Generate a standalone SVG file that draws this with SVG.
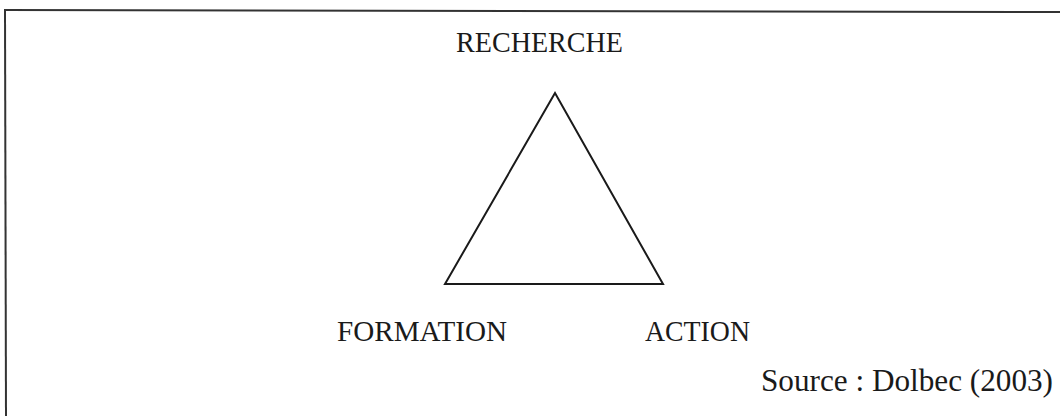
<svg xmlns="http://www.w3.org/2000/svg" width="1060" height="416" viewBox="0 0 1060 416">
<style>
.lbl{font-family:"Liberation Serif","Times New Roman",serif;font-size:28.5px;fill:#1a1a1a}
.src{font-size:31px}
.frame{stroke:#333;stroke-width:2;fill:none}
.tri{stroke:#1a1a1a;stroke-width:2;fill:none;stroke-linejoin:miter}
</style>
<rect width="1060" height="416" fill="#fff"/>
<g id="frame">
<line class="frame" x1="4" y1="10" x2="1060" y2="12"/>
<line class="frame" x1="5" y1="10" x2="6" y2="416" stroke="#666"/>
</g>
<g id="connectors">
<polygon class="tri" points="555,93 445,284 663,284"/>
</g>
<g id="recherche"><text class="lbl" x="456" y="52" textLength="167" lengthAdjust="spacingAndGlyphs">RECHERCHE</text></g>
<g id="formation"><text class="lbl" x="337" y="341" textLength="170" lengthAdjust="spacingAndGlyphs">FORMATION</text></g>
<g id="action"><text class="lbl" x="645" y="341" textLength="105" lengthAdjust="spacingAndGlyphs">ACTION</text></g>
<g id="source"><text class="lbl src" x="761" y="391" textLength="292" lengthAdjust="spacingAndGlyphs">Source : Dolbec (2003)</text></g>
</svg>
